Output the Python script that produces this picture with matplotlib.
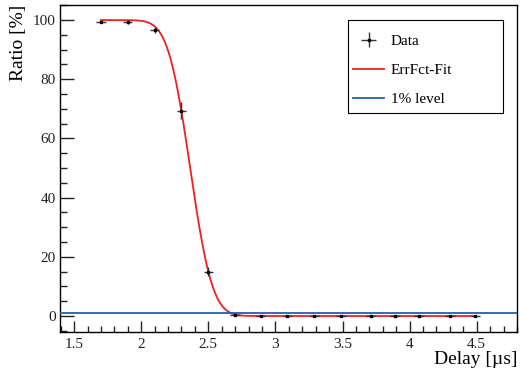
import numpy as np
import matplotlib.pyplot as plt
import matplotlib.ticker as mticker
from matplotlib.patches import Rectangle
from math import erfc, sqrt

# --- data ---
delay = [1.70, 1.90, 2.10, 2.30, 2.50, 2.70, 2.89, 3.09, 3.29, 3.49, 3.71, 3.89, 4.07, 4.30, 4.49]
ratio = [99.5, 99.3, 96.5, 69.4, 15.0, 0.5, 0.1, 0.1, 0.1, 0.1, 0.1, 0.1, 0.1, 0.1, 0.1]
ratio_err = [0.5, 0.6, 1.0, 2.9, 1.4, 0.3, 0.2, 0.2, 0.2, 0.2, 0.2, 0.2, 0.2, 0.2, 0.2]
delay_err = 0.035

# error-function fit parameters
fit_amp = 100.0
fit_mu = 2.365
fit_sigma = 0.1305
level = 1.0

plt.rcParams['font.family'] = ['Liberation Serif', 'DejaVu Serif']

W, H = 520, 374
fig = plt.figure(figsize=(5.2, 3.74), dpi=100)
ax = fig.add_axes([60/W, 1 - 332/H, 457/W, 327/H])

xf = np.linspace(delay[0], delay[-1], 400)
yf = [fit_amp * 0.5 * erfc((x - fit_mu) / (sqrt(2) * fit_sigma)) for x in xf]

ax.axhline(level, color='#2f5ba8', lw=1.3, label='1% level', zorder=4)
ax.plot(xf, yf, color='#f02020', lw=1.3, label='ErrFct-Fit', zorder=3)
ax.errorbar(delay, ratio, xerr=delay_err, yerr=ratio_err, fmt='s', ms=2,
            color='black', ecolor='#333333', elinewidth=1.0, capsize=0,
            label='Data', zorder=5)

ax.set_xlim(1.395, 4.8)
ax.set_ylim(-5.4, 105.1)

ax.xaxis.set_major_locator(mticker.MultipleLocator(0.5))
ax.xaxis.set_minor_locator(mticker.MultipleLocator(0.1))
ax.yaxis.set_major_locator(mticker.MultipleLocator(20))
ax.yaxis.set_minor_locator(mticker.MultipleLocator(5))
ax.xaxis.set_major_formatter(mticker.FuncFormatter(lambda v, p: f'{v:g}'))
ax.tick_params(which='both', direction='in', top=False, right=False,
               labelsize=11, colors='#222222')
ax.tick_params(axis='y', which='major', length=10, width=1, pad=3)
ax.tick_params(axis='y', which='minor', length=5, width=1)
ax.tick_params(axis='x', which='major', length=8, width=1, pad=4)
ax.tick_params(axis='x', which='minor', length=4, width=1)
for s in ax.spines.values():
    s.set_linewidth(1.0)

ax.set_xlabel('Delay [µs]', fontsize=14, loc='right', labelpad=0)
ax.set_ylabel('Ratio [%]', fontsize=14, loc='top', labelpad=4)

# legend (ROOT-style fixed box)
h, l = ax.get_legend_handles_labels()
order = [l.index('Data'), l.index('ErrFct-Fit'), l.index('1% level')]
leg = ax.legend([h[i] for i in order], [l[i] for i in order],
                loc='upper left', bbox_to_anchor=(341/W, 1 - 22/H),
                bbox_transform=fig.transFigure,
                fontsize=11, frameon=False,
                handlelength=2.0, borderpad=0.8, labelspacing=1.0,
                handletextpad=0.45, borderaxespad=0)
fig.patches.append(Rectangle((348/W, 1 - 113/H), 155/W, 93/H,
                             transform=fig.transFigure, fill=False,
                             edgecolor='black', lw=0.8, zorder=10))

fig.savefig('out.png', dpi=100)
